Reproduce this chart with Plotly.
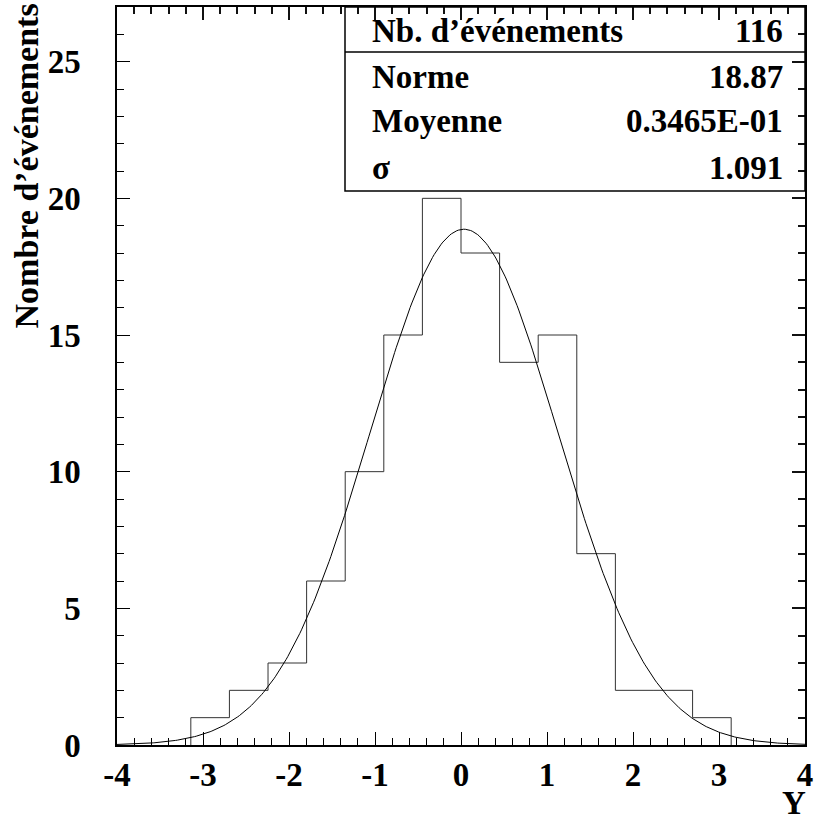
import numpy as np
import plotly.graph_objects as go

# histogramme : 14 classes entre -pi et pi
bin_lo, bin_hi = -3.1416, 3.1416
counts = [1, 2, 3, 6, 10, 15, 20, 18, 14, 15, 7, 2, 2, 1]

# parametres de l'ajustement gaussien
norme = 18.87
moyenne = 0.3465e-01
sigma = 1.091

x_ticks = [-4, -3, -2, -1, 0, 1, 2, 3, 4]
x_ticktext = ['-4', '-3', '-2', '-1', '0', '1', '2', '3', '4']
y_ticks = [0, 5, 10, 15, 20, 25]

stat_labels = ["Nb. d\u2019\u00e9v\u00e9nements", "Norme", "Moyenne", "\u03c3"]
stat_values = ["116", "18.87", "0.3465E-01", "1.091"]

FONT = "Liberation Serif"

edges = np.linspace(bin_lo, bin_hi, len(counts) + 1)
hx = [edges[0]] + list(edges)
hy = [0] + list(counts) + [0]

xf = np.linspace(-4, 4, 400)
yf = norme * np.exp(-0.5 * ((xf - moyenne) / sigma) ** 2)

fig = go.Figure()
fig.add_trace(go.Scatter(x=hx, y=hy, mode='lines', line=dict(color='#333333', width=1, shape='hv'),
                         showlegend=False, hoverinfo='skip'))
fig.add_trace(go.Scatter(x=xf, y=yf, mode='lines', line=dict(color='black', width=1),
                         showlegend=False, hoverinfo='skip'))

axis_common = dict(
    showgrid=False, zeroline=False, showline=True, linecolor='black', linewidth=1.5,
    mirror='allticks', ticks='inside', ticklen=13, tickwidth=1, tickcolor='black',
    automargin=False,
    tickfont=dict(family=FONT, size=33, color='black', weight='bold'),
)
mirror_common = dict(
    showticklabels=False, ticks='inside', ticklen=13, tickwidth=2, tickcolor='#111111',
    showgrid=False, zeroline=False, automargin=False, showline=False,
)

fig.update_layout(
    xaxis=dict(range=[-4, 4], tickvals=x_ticks, ticktext=x_ticktext, ticklabelstandoff=0,
               minor=dict(ticks='inside', dtick=0.2, ticklen=7, tickcolor='black'),
               **axis_common),
    yaxis=dict(range=[0, 27], tickvals=y_ticks, ticklabelstandoff=28,
               minor=dict(ticks='inside', dtick=1, ticklen=7, tickcolor='black'),
               **axis_common),
    # axes miroirs (graduations en haut et a droite)
    xaxis2=dict(range=[-4, 4], overlaying='x', side='top', anchor='y', tickvals=x_ticks,
                minor=dict(ticks='inside', dtick=0.2, ticklen=7, tickwidth=2, tickcolor='#111111'),
                **mirror_common),
    yaxis2=dict(range=[0, 27], overlaying='y', side='right', anchor='x', tickvals=y_ticks,
                minor=dict(ticks='inside', dtick=1, ticklen=7, tickwidth=2, tickcolor='#111111'),
                **mirror_common),
)
# trace invisible pour activer les axes miroirs
fig.add_trace(go.Scatter(x=[0], y=[0], xaxis='x2', yaxis='y2', mode='markers',
                         marker=dict(opacity=0), showlegend=False, hoverinfo='skip'))

# boite de statistiques (transparente pour laisser voir les graduations)
bx0, by0, bsep = 0.3314, 0.7507, 0.939
fig.add_shape(type='rect', xref='paper', yref='paper', x0=bx0, x1=1, y0=by0, y1=1,
              line=dict(color='black', width=1.5), fillcolor='rgba(0,0,0,0)', layer='above')
fig.add_shape(type='line', xref='paper', yref='paper', x0=bx0, x1=1, y0=bsep, y1=bsep,
              line=dict(color='black', width=1.5), layer='above')

rows_y = [0.967, 0.905, 0.846, 0.782]
for lab, val, ry in zip(stat_labels, stat_values, rows_y):
    fig.add_annotation(x=0.3677, y=ry, xref='paper', yref='paper', text=lab, showarrow=False,
                       xanchor='left', yanchor='middle',
                       font=dict(family=FONT, size=33, color='black', weight='bold'))
    fig.add_annotation(x=0.9709, y=ry, xref='paper', yref='paper', text=val, showarrow=False,
                       xanchor='right', yanchor='middle',
                       font=dict(family=FONT, size=33, color='black', weight='bold'))

# titres des axes
fig.add_annotation(x=-0.131, y=1.008, xref='paper', yref='paper', text="Nombre d\u2019\u00e9v\u00e9nements",
                   textangle=-90, showarrow=False, xanchor='center', yanchor='top',
                   font=dict(family=FONT, size=34, color='black', weight='bold'))
fig.add_annotation(x=1.004, y=-0.078, xref='paper', yref='paper', text="Y",
                   showarrow=False, xanchor='right', yanchor='middle',
                   font=dict(family=FONT, size=33, color='black', weight='bold'))

fig.update_layout(
    width=814, height=819,
    margin=dict(l=117, r=9, t=7, b=74),
    paper_bgcolor='white', plot_bgcolor='white',
)

# pas de marge autour de la page, pas de barre d'outils
fig.write_html("out.html", config={'displayModeBar': False},
               post_script="document.body.style.margin='0px';")
